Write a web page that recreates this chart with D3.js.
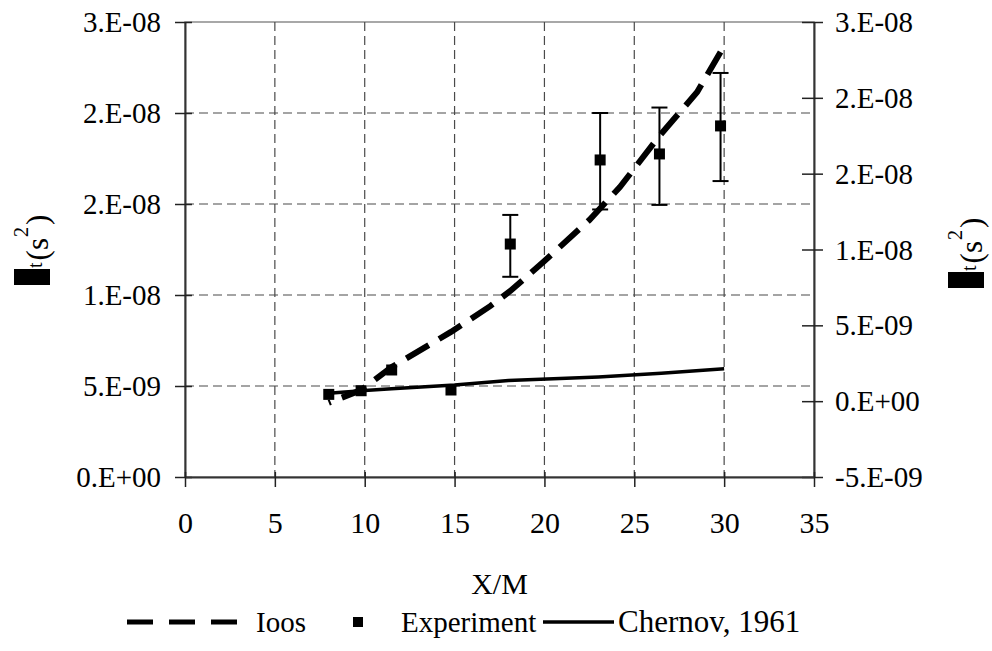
<!DOCTYPE html>
<html>
<head>
<meta charset="utf-8">
<script src="https://cdn.jsdelivr.net/npm/d3@7/dist/d3.min.js"></script>
<style>
  html, body { margin: 0; padding: 0; background: #fff; }
  svg { display: block; }
  text { font-family: "Liberation Serif", "Times New Roman", serif; fill: #000; }
</style>
</head>
<body>
<svg id="chart" width="992" height="651"></svg>
<script>
// ---- data ----
const xTicks = [0, 5, 10, 15, 20, 25, 30, 35];
const xTickLabels = ["0", "5", "10", "15", "20", "25", "30", "35"];
const leftTicks = [0, 5e-9, 1e-8, 1.5e-8, 2e-8, 2.5e-8];
const leftTickLabels = ["0.E+00", "5.E-09", "1.E-08", "2.E-08", "2.E-08", "3.E-08"];
const rightTicks = [-5e-9, 0, 5e-9, 1e-8, 1.5e-8, 2e-8, 2.5e-8];
const rightTickLabels = ["-5.E-09", "0.E+00", "5.E-09", "1.E-08", "2.E-08", "2.E-08", "3.E-08"];

const ioosX = [8.0, 9.8, 11.5, 14.8, 17.0, 18.1, 20.0, 22.5, 24.2, 26.4, 28.5, 29.8];
const ioosY = [4.08e-9, 4.78e-9, 6.04e-9, 7.97e-9, 9.40e-9, 1.022e-8, 1.187e-8, 1.412e-8, 1.593e-8, 1.874e-8, 2.115e-8, 2.335e-8];

const expX = [8.0, 9.8, 11.5, 14.8, 18.1, 23.1, 26.4, 29.8];
const expY = [4.54e-9, 4.74e-9, 5.88e-9, 4.78e-9, 1.28e-8, 1.742e-8, 1.775e-8, 1.929e-8];
const expLow = [null, null, null, null, 1.10e-8, 1.47e-8, 1.495e-8, 1.626e-8];
const expHigh = [null, null, null, null, 1.44e-8, 2.00e-8, 2.03e-8, 2.22e-8];

const chernovX = [8.0, 10.0, 11.5, 15.0, 18.0, 23.0, 26.5, 30.0];
const chernovY = [4.6e-9, 4.75e-9, 4.85e-9, 5.05e-9, 5.3e-9, 5.5e-9, 5.7e-9, 5.95e-9];

const legendLabels = ["Ioos", "Experiment", "Chernov, 1961"];

// ---- layout ----
const L = 185, R = 814, T = 22, B = 477;
const FS = 29;
const svg = d3.select("#chart");

const x = d3.scaleLinear().domain([0, 35]).range([L, R]);
const yL = d3.scaleLinear().domain([0, 2.5e-8]).range([B, T]);
const yR = d3.scaleLinear().domain([-5e-9, 2.5e-8]).range([B, T]);

// plot area border
svg.append("rect").attr("x", L).attr("y", T).attr("width", R - L).attr("height", B - T)
  .attr("fill", "none").attr("stroke", "#8c8c8c").attr("stroke-width", 1.5);

// gridlines
const grid = svg.append("g").attr("stroke", "#4a4a4a").attr("stroke-width", 1.2)
  .attr("stroke-dasharray", "9,5");
grid.selectAll("line.v").data(xTicks.filter(d => d > 0 && d < 35)).enter().append("line")
  .attr("x1", d => x(d)).attr("x2", d => x(d)).attr("y1", T).attr("y2", B);
grid.selectAll("line.h").data(leftTicks.filter(d => d > 0 && d < 2.5e-8)).enter().append("line")
  .attr("x1", L).attr("x2", R).attr("y1", d => yL(d)).attr("y2", d => yL(d));

function styleAxis(g, inner, horizontal, sign) {
  g.select(".domain").attr("stroke", "#333").attr("stroke-width", 2);
  g.selectAll(".tick line").attr("stroke", "#222").attr("stroke-width", 1.5)
    .each(function () {
      const l = d3.select(this);
      if (horizontal) l.attr("y1", -inner * sign); else l.attr("x1", -inner * sign);
    });
  g.selectAll(".tick text").style("font-size", FS + "px")
    .style("font-family", '"Liberation Serif", "Times New Roman", serif').attr("fill", "#000");
}

// left axis
const gL = svg.append("g").attr("transform", `translate(${L},0)`)
  .call(d3.axisLeft(yL).tickValues(leftTicks).tickFormat((d, i) => leftTickLabels[i])
    .tickSizeInner(10).tickSizeOuter(0).tickPadding(14));
styleAxis(gL, 7, false, -1);
gL.selectAll(".tick text").attr("dy", "0.33em");

// right axis
const gR = svg.append("g").attr("transform", `translate(${R},0)`)
  .call(d3.axisRight(yR).tickValues(rightTicks).tickFormat((d, i) => rightTickLabels[i])
    .tickSizeInner(9).tickSizeOuter(0).tickPadding(12));
styleAxis(gR, 12, false, 1);
gR.selectAll(".tick text").attr("dy", "0.33em");

// bottom axis
const gB = svg.append("g").attr("transform", `translate(0,${B})`)
  .call(d3.axisBottom(x).tickValues(xTicks).tickFormat((d, i) => xTickLabels[i])
    .tickSizeInner(10).tickSizeOuter(0).tickPadding(25));
styleAxis(gB, 5, true, 1);
gB.selectAll(".tick text").style("font-size", "30px");

// ---- series ----
const ioosData = ioosX.map((d, i) => [d, ioosY[i]]);
const chernovData = chernovX.map((d, i) => [d, chernovY[i]]);
const line = d3.line().x(d => x(d[0])).y(d => yL(d[1]));

svg.append("path").datum(chernovData).attr("d", line)
  .attr("fill", "none").attr("stroke", "#000").attr("stroke-width", 3.5);

const ioosPath = svg.append("path").datum(ioosData).attr("d", line)
  .attr("fill", "none").attr("stroke", "#000").attr("stroke-width", 6)
  .attr("stroke-dasharray", "26,12");
{
  const len = ioosPath.node().getTotalLength();
  const period = 38, dash = 26;
  const off = ((dash - (len % period)) % period + period) % period;
  ioosPath.attr("stroke-dashoffset", off);
}

// error bars
const eb = svg.append("g").attr("stroke", "#000").attr("stroke-width", 2);
expX.forEach((xv, i) => {
  if (expLow[i] == null) return;
  const cx = x(xv);
  eb.append("line").attr("x1", cx).attr("x2", cx).attr("y1", yL(expLow[i])).attr("y2", yL(expHigh[i]));
  eb.append("line").attr("x1", cx - 8).attr("x2", cx + 8).attr("y1", yL(expLow[i])).attr("y2", yL(expLow[i]));
  eb.append("line").attr("x1", cx - 8).attr("x2", cx + 8).attr("y1", yL(expHigh[i])).attr("y2", yL(expHigh[i]));
});

// markers
const MS = 11;
svg.append("g").selectAll("rect").data(expX).enter().append("rect")
  .attr("x", (d) => x(d) - MS / 2).attr("y", (d, i) => yL(expY[i]) - MS / 2)
  .attr("width", MS).attr("height", MS).attr("fill", "#000");

// ---- axis titles ----
svg.append("text").attr("x", (L + R) / 2).attr("y", 594).attr("text-anchor", "middle")
  .style("font-size", "30px").text("X/M");

function yTitle(bx, shift) {
  const g = svg.append("g").attr("transform", `translate(${bx},${shift}) rotate(-90)`);
  g.append("rect").attr("x", -285).attr("y", -36).attr("width", 16).attr("height", 36).attr("fill", "#000");
  const t = g.append("text").attr("x", -268).attr("y", -8);
  t.append("tspan").style("font-size", "20px").text("t");
  t.append("tspan").attr("dx", 2).attr("dy", 6).style("font-size", "31px").text("(s");
  t.append("tspan").attr("dx", 1).attr("dy", -20).style("font-size", "20px").text("2");
  t.append("tspan").attr("dx", 2).attr("dy", 20).style("font-size", "31px").text(")");
}
yTitle(50, 0);
yTitle(984, 3);

// ---- legend ----
const LY = 622;
const LFS = 29;
const lg = svg.append("g");
lg.append("line").attr("x1", 127).attr("x2", 238).attr("y1", LY).attr("y2", LY)
  .attr("stroke", "#000").attr("stroke-width", 5).attr("stroke-dasharray", "26,16");
lg.append("text").attr("x", 256).attr("y", LY + 10).style("font-size", LFS + "px").text(legendLabels[0]);
lg.append("rect").attr("x", 353).attr("y", LY - 5).attr("width", 10).attr("height", 10).attr("fill", "#000");
lg.append("text").attr("x", 401).attr("y", LY + 10).style("font-size", LFS + "px").text(legendLabels[1]);
lg.append("line").attr("x1", 543).attr("x2", 614).attr("y1", LY).attr("y2", LY)
  .attr("stroke", "#000").attr("stroke-width", 3.5);
lg.append("text").attr("x", 618).attr("y", LY + 10).style("font-size", "31px").text(legendLabels[2]);
</script>
</body>
</html>
